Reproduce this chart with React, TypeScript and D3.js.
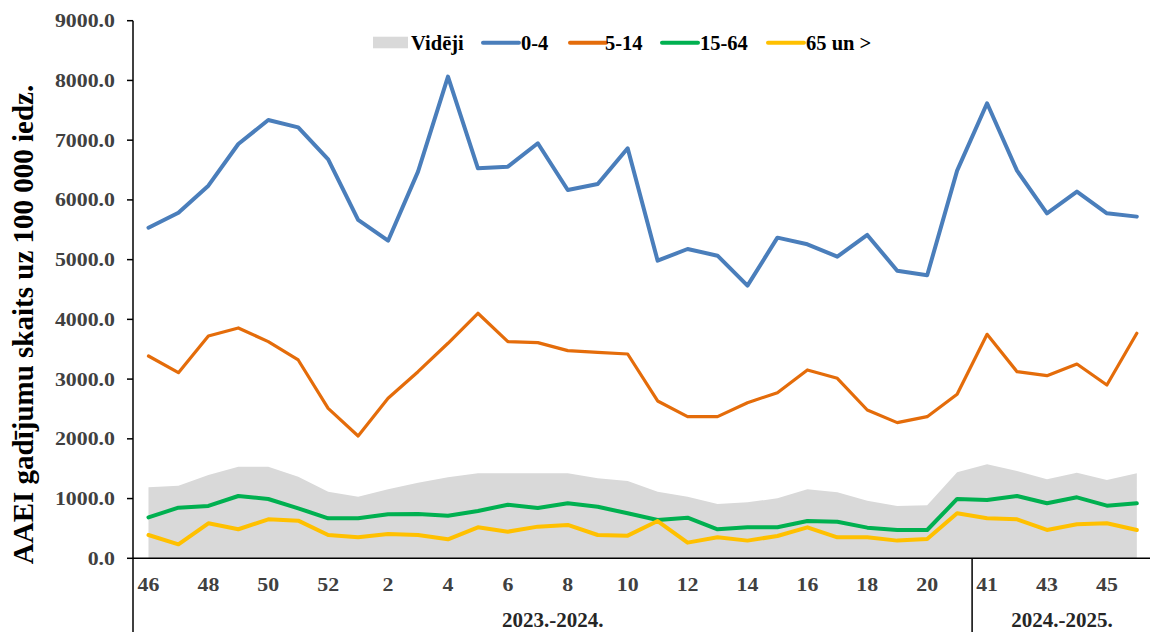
import React from "react";
import * as d3 from "d3";

// ---- data ----
const weeks: number[] = [46, 47, 48, 49, 50, 51, 52, 1, 2, 3, 4, 5, 6, 7, 8, 9, 10, 11, 12, 13, 14, 15, 16, 17, 18, 19, 20, 21, 41, 42, 43, 44, 45, 46];
const seasons: { label: string; count: number }[] = [
  { label: "2023.-2024.", count: 28 },
  { label: "2024.-2025.", count: 6 },
];
const avg: number[] = [1189, 1216, 1395, 1534, 1534, 1366, 1115, 1031, 1155, 1266, 1356, 1423, 1423, 1423, 1423, 1339, 1294, 1115, 1031, 909, 937, 1004, 1155, 1105, 964, 876, 887, 1440, 1574, 1462, 1323, 1434, 1311, 1423];
const age0_4: number[] = [5535, 5786, 6238, 6936, 7337, 7215, 6680, 5664, 5317, 6473, 8063, 6529, 6557, 6948, 6166, 6267, 6864, 4983, 5178, 5066, 4564, 5368, 5257, 5050, 5413, 4815, 4738, 6490, 7617, 6490, 5776, 6138, 5776, 5720];
const age5_14: number[] = [3387, 3108, 3722, 3856, 3627, 3320, 2511, 2048, 2679, 3124, 3600, 4102, 3627, 3610, 3476, 3449, 3420, 2634, 2371, 2371, 2605, 2773, 3153, 3013, 2483, 2271, 2371, 2746, 3750, 3124, 3057, 3253, 2901, 3767];
const age15_64: number[] = [686, 847, 876, 1043, 993, 837, 670, 670, 737, 742, 713, 792, 897, 842, 921, 864, 753, 641, 680, 485, 519, 519, 624, 613, 513, 474, 474, 993, 976, 1043, 921, 1021, 881, 921];
const age65: number[] = [390, 234, 586, 486, 653, 630, 390, 352, 407, 390, 318, 519, 446, 530, 558, 390, 379, 624, 262, 352, 296, 373, 519, 352, 352, 296, 323, 753, 670, 653, 474, 569, 586, 474];
const yTicks: number[] = [0, 1000, 2000, 3000, 4000, 5000, 6000, 7000, 8000, 9000];
const seriesNames: string[] = ["Vidēji", "0-4", "5-14", "15-64", "65 un >"];

const COLORS = { avg: "#D9D9D9", b: "#4A7EBB", o: "#E46C0A", g: "#00B050", y: "#FFC000" };
const FONT = "'Liberation Serif', 'Times New Roman', serif";

export default function App() {
  const W = 1150, H = 632;
  const left = 133, top = 20.7, bottom = 558.3;
  const step = 29.95;
  const idx = weeks.map((_, i) => i);
  const x = d3.scaleBand<number>().domain(idx).range([left + 0.5, left + 0.5 + step * weeks.length]).padding(0);
  const cx = (i: number) => (x(i) as number) + x.bandwidth() / 2;
  const y = d3.scaleLinear().domain([0, 9000]).range([bottom, top]);
  const line = d3.line<number>().x((_, i) => cx(i)).y((d) => y(d));
  const area = d3.area<number>().x((_, i) => cx(i)).y0(y(0)).y1((d) => y(d));
  const fmt = d3.format(".1f");

  // season boundaries
  let acc = 0;
  const seasonPos = seasons.map((s) => {
    const start = acc;
    acc += s.count;
    const x0 = x(start) as number;
    const x1 = start + s.count < weeks.length ? (x(start + s.count) as number) : x.range()[1];
    return { ...s, x0, x1 };
  });

  const legend = [
    { name: seriesNames[0], kind: "rect", color: COLORS.avg, sx: 373, tx: 411 },
    { name: seriesNames[1], kind: "line", color: COLORS.b, sx: 483, tx: 521 },
    { name: seriesNames[2], kind: "line", color: COLORS.o, sx: 570, tx: 605 },
    { name: seriesNames[3], kind: "line", color: COLORS.g, sx: 662, tx: 700 },
    { name: seriesNames[4], kind: "line", color: COLORS.y, sx: 768, tx: 806 },
  ];

  return (
    <svg width={W} height={H} style={{ position: "absolute", left: 0, top: 0, background: "#fff" }} fontFamily={FONT}>
      {/* area */}
      <path d={area(avg) || ""} fill={COLORS.avg} />
      {/* lines */}
      <path d={line(age0_4) || ""} fill="none" stroke={COLORS.b} strokeWidth={4} strokeLinejoin="round" strokeLinecap="round" />
      <path d={line(age5_14) || ""} fill="none" stroke={COLORS.o} strokeWidth={3.2} strokeLinejoin="round" strokeLinecap="round" />
      <path d={line(age15_64) || ""} fill="none" stroke={COLORS.g} strokeWidth={4} strokeLinejoin="round" strokeLinecap="round" />
      <path d={line(age65) || ""} fill="none" stroke={COLORS.y} strokeWidth={4} strokeLinejoin="round" strokeLinecap="round" />

      {/* y axis */}
      <line x1={left} x2={left} y1={top} y2={H} stroke="#000" strokeWidth={1.5} />
      {yTicks.map((t) => (
        <g key={t}>
          <line x1={left - 6} x2={left} y1={y(t)} y2={y(t)} stroke="#000" strokeWidth={1.5} />
          <text
            transform={`translate(115,${y(t) + 6.5}) scale(1.15,1)`}
            textAnchor="end"
            fontSize={19}
            fontWeight="bold"
            fill="#404040"
          >
            {fmt(t)}
          </text>
        </g>
      ))}
      {/* x axis */}
      <line x1={left} x2={W} y1={bottom} y2={bottom} stroke="#000" strokeWidth={1.5} />
      {seasonPos.slice(1).map((s) => (
        <line key={s.label} x1={s.x0} x2={s.x0} y1={bottom} y2={H} stroke="#000" strokeWidth={1.5} />
      ))}
      {weeks.map((w, i) =>
        i % 2 === 0 ? (
          <text
            key={i}
            transform={`translate(${cx(i)},${591}) scale(1.15,1)`}
            textAnchor="middle"
            fontSize={19}
            fontWeight="bold"
            fill="#404040"
          >
            {w}
          </text>
        ) : null
      )}
      {seasonPos.map((s) => (
        <text key={s.label} x={(s.x0 + s.x1) / 2} y={627} textAnchor="middle" fontSize={21} fontWeight="bold" fill="#262626">
          {s.label}
        </text>
      ))}

      {/* y title */}
      <text
        transform={`translate(33,324.5) rotate(-90)`}
        textAnchor="middle"
        fontSize={29}
        fontWeight="bold"
        fill="#000"
      >
        AAEI gadījumu skaits uz 100 000 iedz.
      </text>

      {/* legend */}
      {legend.map((l) => (
        <g key={l.name}>
          {l.kind === "rect" ? (
            <rect x={l.sx} y={36.7} width={35} height={11.6} fill={l.color} />
          ) : (
            <line x1={l.sx} x2={l.sx + 36} y1={42.7} y2={42.7} stroke={l.color} strokeWidth={4} strokeLinecap="round" />
          )}
          <text x={l.tx} y={49.5} fontSize={20.5} fontWeight="bold" fill="#000">
            {l.name}
          </text>
        </g>
      ))}
    </svg>
  );
}
